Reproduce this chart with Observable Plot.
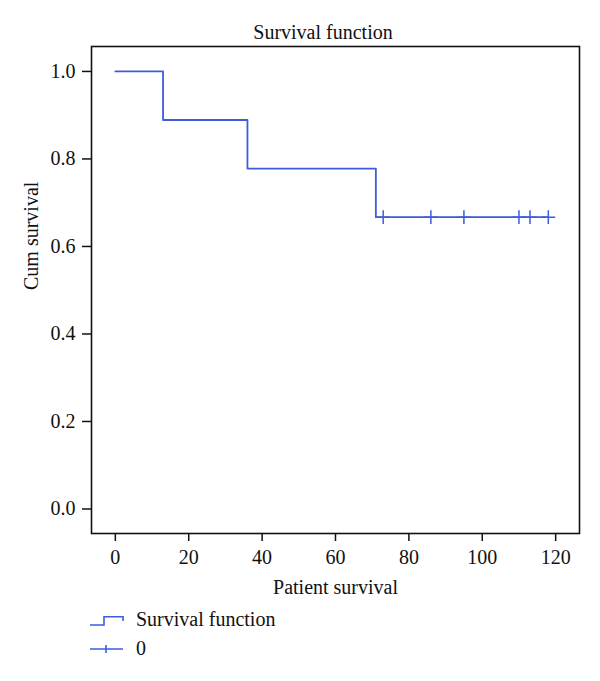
<!DOCTYPE html>
<html><head><meta charset="utf-8">
<script src="https://cdn.jsdelivr.net/npm/d3@7"></script>
<script src="https://cdn.jsdelivr.net/npm/@observablehq/plot@0.6"></script>
<style>
body{margin:0;background:#fff;font-family:"Liberation Serif","Times New Roman",serif;color:#111;}
#title{height:40px;width:554px;margin-left:46px;text-align:center;font-size:20px;line-height:64px;white-space:nowrap;}
#legend{padding:5px 0 0 90px;font-size:20px;}
.row{height:29px;display:flex;align-items:center;}
.row svg{margin-right:12px;display:block}
</style></head><body>
<div id="title"></div>
<div id="chart"></div>
<div id="legend"></div>
<script>
// ---- data ----
const titleText = "Survival function";
const xLabel = "Patient survival";
const yLabel = "Cum survival";
const stepTimes = [0, 13, 36, 71, 118];
const stepSurvival = [1.0, 0.889, 0.778, 0.667, 0.667];
const censorTimes = [73, 86, 95, 110, 113, 118];
const censorSurvival = [0.667, 0.667, 0.667, 0.667, 0.667, 0.667];
const xTicks = [0, 20, 40, 60, 80, 100, 120];
const yTicks = [0.0, 0.2, 0.4, 0.6, 0.8, 1.0];
const legendLabels = ["Survival function", "0"];

const blue = "#3d5ce0";
const curve = stepTimes.map((t, i) => ({t, s: stepSurvival[i]}));
const censored = censorTimes.map((t, i) => ({t, s: censorSurvival[i]}));

document.getElementById("title").textContent = titleText;

const chart = Plot.plot({
  width: 600,
  height: 560,
  marginTop: 6,
  marginBottom: 67,
  marginLeft: 91,
  marginRight: 21,
  style: {fontFamily: "Liberation Serif, Times New Roman, serif", fontSize: "20px", background: "white", color: "#111", overflow: "visible"},
  x: {domain: [-6.5, 126.5]},
  y: {domain: [-0.056, 1.057]},
  marks: [
    Plot.axisX(xTicks, {tickSize: 8, tickPadding: 8, label: null, strokeWidth: 1.5}),
    Plot.axisY(yTicks, {tickSize: 9, tickPadding: 7, tickFormat: d3.format(".1f"), label: null, strokeWidth: 1.5}),
    Plot.line(curve, {x: "t", y: "s", curve: "step-after", stroke: blue, strokeWidth: 1.8}),
    Plot.dot(censored, {x: "t", y: "s", symbol: "plus", r: 4.5, stroke: blue, strokeWidth: 1.5}),
    Plot.frame({stroke: "#111", strokeWidth: 1.6}),
    Plot.text([xLabel], {frameAnchor: "bottom", dy: 60, fontSize: 20}),
    Plot.text([yLabel], {frameAnchor: "left", dx: -60, rotate: -90, fontSize: 20})
  ]
});
document.getElementById("chart").appendChild(chart);

// ---- legend ----
const icons = [
  `<svg width="34" height="14"><path d="M0,12H14V3.7H33V8" fill="none" stroke="${blue}" stroke-width="1.6"/></svg>`,
  `<svg width="34" height="14"><path d="M0,7H33M16,3V11" fill="none" stroke="${blue}" stroke-width="1.6"/></svg>`
];
const legend = document.getElementById("legend");
legendLabels.forEach((lab, i) => {
  const row = document.createElement("div");
  row.className = "row";
  row.innerHTML = icons[i];
  const span = document.createElement("span");
  span.textContent = lab;
  row.appendChild(span);
  legend.appendChild(row);
});
</script>
</body></html>
